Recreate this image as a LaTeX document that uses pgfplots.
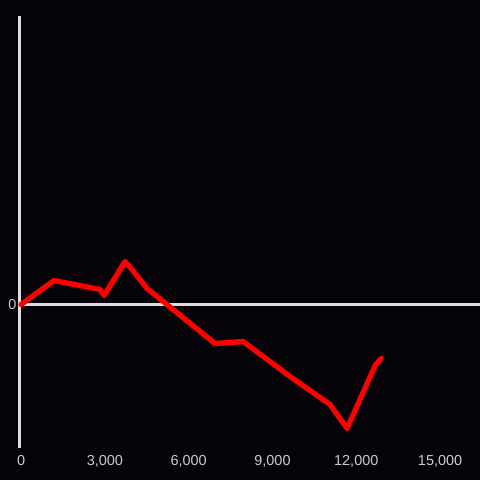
\documentclass[border=0pt]{standalone}
\usepackage{pgfplots}
\pgfplotsset{compat=1.18}
\usepackage{fontspec}
\setmainfont{Liberation Sans}
\definecolor{bg}{HTML}{050307}
\definecolor{axisgray}{HTML}{DDDDDD}
\definecolor{labgray}{HTML}{CCCCCC}
\begin{document}
\begin{tikzpicture}
\fill[bg] (-20bp,-32bp) rectangle (460bp,448bp);
\begin{axis}[
  at={(0,0)}, anchor=south west,
  scale only axis,
  width=460bp, height=432bp,
  xmin=-40, xmax=16430,
  ymin=-143.5, ymax=288.5,
  axis x line=bottom, axis y line=left,
  x axis line style={draw=none,-},
  y axis line style={draw=axisgray,line width=3bp,-},
  major tick length=0,
  xtick={0,3000,6000,9000,12000,15000},
  ytick={0},
  scaled ticks=false,
  /pgf/number format/assume math mode=true,
  /pgf/number format/1000 sep={,},
  tick label style={font=\fontsize{14.5}{16}\selectfont, text=labgray},
  xticklabel style={yshift=-4bp},
  yticklabel style={xshift=0bp},
  clip=false,
]
\draw[axisgray, line width=3bp] (axis cs:-40,0) -- (axis cs:16430,0);
\addplot[red, line width=5.3bp, line join=round, line cap=round] coordinates {
  (0,0) (1181,24) (2828,15) (2972,9) (3724,43) (3938,36) (4511,16)
  (6946,-39) (7949,-37) (9631,-72) (11063,-100) (11672,-124)
  (12675,-61) (12889,-54)
};
\end{axis}
\pgfresetboundingbox
\path (-20bp,-32bp) rectangle (460bp,448bp);
\end{tikzpicture}
\end{document}
